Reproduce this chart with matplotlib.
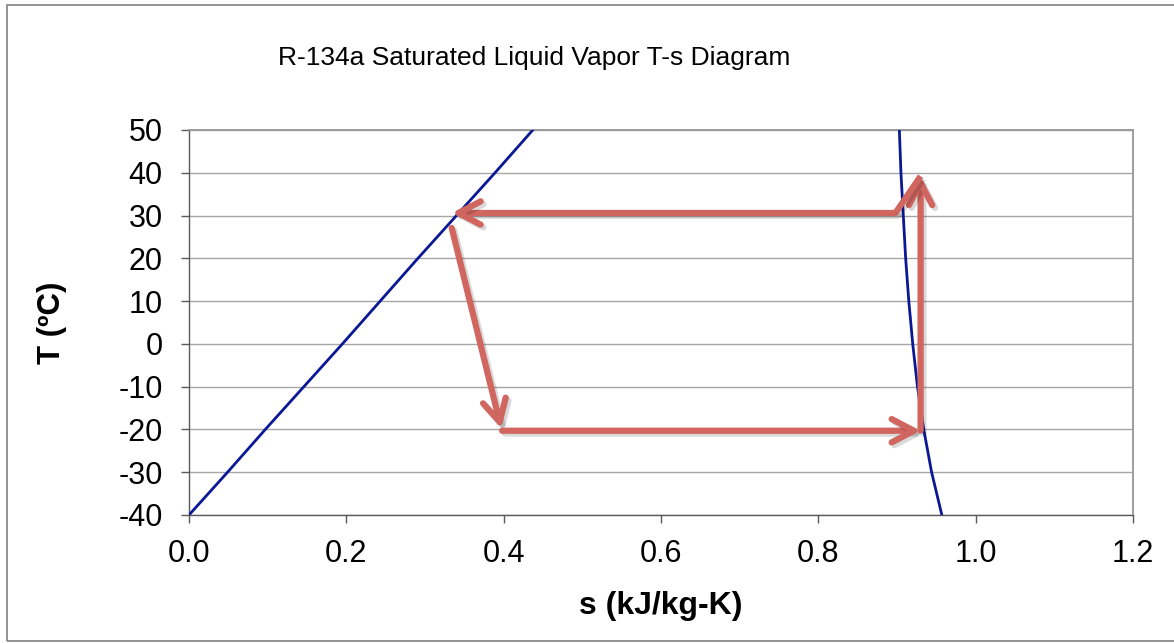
import matplotlib
matplotlib.use('Agg')
from matplotlib import pyplot as plt
from matplotlib.patches import Rectangle
import matplotlib.patheffects as pe

plt.rcParams['font.family'] = ['Liberation Sans', 'DejaVu Sans']
plt.rcParams['axes.unicode_minus'] = False

# saturation curves
T_sat = [-40, -30, -20, -10, 0, 10, 20, 30, 40, 50]
s_liq = [0.0, 0.049, 0.097, 0.146, 0.195, 0.243, 0.291, 0.340, 0.389, 0.437]
s_vap = [0.957, 0.944, 0.934, 0.926, 0.920, 0.915, 0.911, 0.908, 0.905, 0.903]

# cycle arrows (start s, start T, end s, end T)
arrow_s0 = [0.898, 0.334, 0.398, 0.930]
arrow_T0 = [30.6, 27.1, -20.3, -20.3]
arrow_s1 = [0.334, 0.397, 0.930, 0.930]
arrow_T1 = [30.6, -19.8, -20.3, 39.2]
# short link from point 1 to top of the vertical arrow
link_s = [0.898, 0.930]
link_T = [30.6, 39.2]

x_ticks = [0.0, 0.2, 0.4, 0.6, 0.8, 1.0, 1.2]
y_ticks = [-40, -30, -20, -10, 0, 10, 20, 30, 40, 50]

arrow_col = '#D0665F'
line_col = '#0A1896'

fig = plt.figure(figsize=(11.74, 6.43), dpi=100)
ax = fig.add_axes([189/1174, 1-515/643, (1133-189)/1174, (515-130)/643])

ax.plot(s_liq, T_sat, color=line_col, lw=2, zorder=3)
ax.plot(s_vap, T_sat, color=line_col, lw=2, zorder=3)

shadow = [pe.SimpleLineShadow(offset=(2, -2), shadow_color='black', alpha=0.15), pe.Normal()]
for i in range(len(arrow_s0)):
    ax.annotate('', xy=(arrow_s1[i], arrow_T1[i]), xytext=(arrow_s0[i], arrow_T0[i]),
                arrowprops=dict(arrowstyle='->,head_length=0.8,head_width=0.42',
                                color=arrow_col, lw=4.5, mutation_scale=20,
                                shrinkA=0, shrinkB=0, path_effects=shadow),
                zorder=4)
ax.plot(link_s, link_T, color=arrow_col, lw=4.5, solid_capstyle='butt', zorder=4,
        path_effects=shadow)

ax.set_xlim(0, 1.2)
ax.set_ylim(-40, 50)
ax.set_xticks(x_ticks)
ax.set_xticklabels(['%.1f' % v for v in x_ticks])
ax.set_yticks(y_ticks)
ax.yaxis.grid(True, color='#A6A6A6', lw=1)
ax.set_axisbelow(True)
ax.tick_params(labelsize=22, length=6, width=1, color='#595959', direction='out')
ax.tick_params(axis='y', pad=13)
ax.tick_params(axis='x', pad=11)
for side in ['top', 'right']:
    ax.spines[side].set_color('#969696')
    ax.spines[side].set_linewidth(1.3)
for side in ['left', 'bottom']:
    ax.spines[side].set_color('#595959')
    ax.spines[side].set_linewidth(1)

ax.set_xlabel('s (kJ/kg-K)', fontsize=23, fontweight='bold', labelpad=16)
ax.set_ylabel('T (ºC)', fontsize=22.5, fontweight='bold', labelpad=37)

fig.text(534/1174, 1-58/643, 'R-134a Saturated Liquid Vapor T-s Diagram',
         ha='center', va='center', fontsize=19)

fig.patches.append(Rectangle((7/1174, 1-641/643), 1.2, (641-5)/643, transform=fig.transFigure,
                             fill=False, edgecolor='#808080', lw=1.2))

fig.savefig('out.png', dpi=100)
